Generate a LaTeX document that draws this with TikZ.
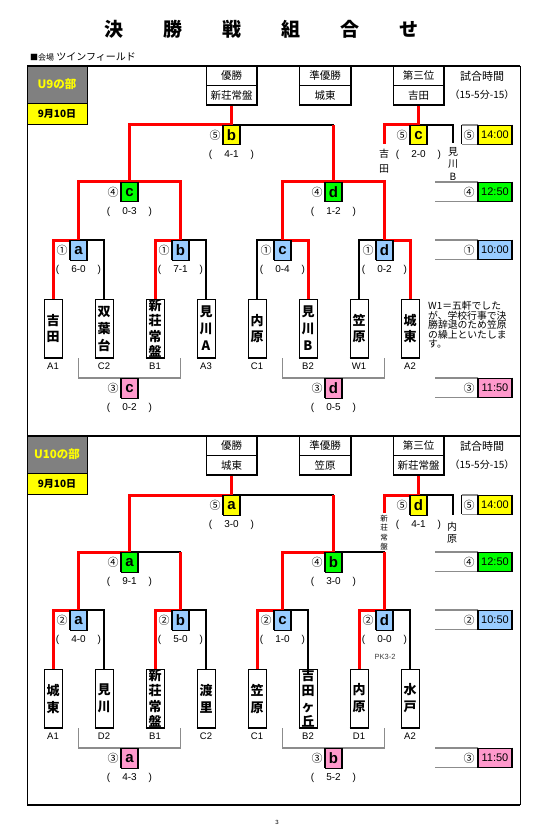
\documentclass[tikz,border=0pt]{standalone}
\usepackage{fontspec}
\setmainfont{Liberation Sans}
\newfontfamily\jp{Noto Sans CJK JP}
\usetikzlibrary{calc}
\definecolor{cblue}{HTML}{99CCFF}
\definecolor{cgreen}{HTML}{00FF00}
\definecolor{cyel}{HTML}{FFFF00}
\definecolor{cpink}{HTML}{FF99CC}
\definecolor{cred}{HTML}{FF0000}
\definecolor{cgray}{HTML}{808080}
\definecolor{lgray}{HTML}{8C8C8C}
\pgfdeclarelayer{bg}
\pgfsetlayers{bg,main}
\tikzset{
 blk/.style={line width=1.6pt,black},
 rd/.style={line width=3pt,cred},
 gr/.style={line width=1.6pt,lgray},
 teambox/.style={draw,line width=0.6pt,minimum width=18pt,minimum height=59pt,inner sep=0pt,align=center},
 lab/.style={font=\fontsize{9.5}{9.5}\selectfont},
 lbox/.style={draw,line width=0.6pt,minimum width=17pt,minimum height=19.5pt,inner sep=0pt,anchor=north,font=\bfseries\fontsize{15}{15}\selectfont},
 circnum/.style={font=\jp\fontsize{11}{11}\selectfont},
 scoretxt/.style={font=\fontsize{10}{10}\selectfont},
 cell/.style={draw,line width=0.6pt,minimum width=51pt,minimum height=19.5pt,inner sep=0pt,font=\jp\fontsize{10.5}{10.5}\selectfont},
 tbox/.style={draw,line width=0.6pt,minimum width=34pt,minimum height=19.5pt,inner sep=0pt,font=\fontsize{11}{11}\selectfont},
 divbox/.style={draw,line width=0.8pt,fill=cgray,minimum width=60pt,minimum height=37pt,inner sep=0pt,text=cyel,font=\jp\bfseries\fontsize{11.5}{11.5}\selectfont},
 datebox/.style={draw,line width=0.8pt,fill=cyel,minimum width=60pt,minimum height=21pt,inner sep=0pt,font=\jp\bfseries\fontsize{10}{10}\selectfont},
 vtext/.style={align=center,inner sep=0pt},
}
\newcommand\mtch[7]{%
 \node[lbox,fill=#6] (#1) at (#2,#3) {#5};
 \draw[line width=1.8pt] (#1.north west)--(#1.south west) (#1.north east)--(#1.south east);
 \node[circnum] (#1c) at (#2-16.5,#3+10) {#4};
 \node[scoretxt] (#1s) at (#2,#3+30) {(\hspace{12pt}#7\hspace{12pt})};}
\newcommand\team[6]{%
 \node[teambox,font=\jp\bfseries\fontsize{#6}{#5}\selectfont] (#1) at (#2,328.5) {#4};
 \draw[line width=1.8pt] (#1.south west)--(#1.south east);
 \node[lab] (#1l) at (#2,366) {#3};}
\newcommand\hdr[5]{%
 \node[cell] (#1a) at (#2,#3+9.75) {#4};
 \node[cell] (#1b) at (#2,#3+29.25) {#5};
 \draw[line width=1.8pt] (#1a.north east)--(#1b.south east)--(#1b.south west);}
\newcommand\trow[6]{%
 \draw[gr] (#6,#2) -- (478,#2) (#6,#2+19.5) -- (478,#2+19.5);
 \node[tbox,fill=#5] (#1) at (495,#2+9.75) {#4};
 \draw[line width=1.8pt] (#1.north west)--(#1.south west) (#1.north east)--(#1.south east);
 \node[circnum] (#1c) at (469,#2+10) {#3};}
\begin{document}
\begin{tikzpicture}[x=1pt,y=-1pt]
\useasboundingbox (0,0) rectangle (559,826);
\begin{pgfonlayer}{bg}
\fill[white] (0,0) rectangle (559,826);
\end{pgfonlayer}
% title
\node[font=\jp\bfseries\fontsize{19}{19}\selectfont] (title) at (261.5,29) {決\hspace{40pt}勝\hspace{40pt}戦\hspace{40pt}組\hspace{40pt}合\hspace{40pt}せ};
\node[anchor=west,inner sep=0pt,font=\jp\fontsize{10}{10}\selectfont] (venue) at (30,57) {{\fontsize{8}{8}\selectfont ■会場} ツインフィールド};
% frame
\draw[line width=0.8pt] (27,66) -- (27,805) (520,66) -- (520,805);
\draw[line width=1.6pt] (27,66) -- (520,66) (27,436) -- (520,436);
\draw[line width=1.2pt] (27,805) -- (520,805);
\node[font=\fontsize{6}{6}\selectfont] (pageno) at (277,822) {3};

% ================= U9 =================
\node[divbox] (p1div) at (57,84.5) {U9の部};
\node[datebox] (p1date) at (57,113.5) {9月10日};
\hdr{p1w}{231.5}{66}{優勝}{新荘常盤}
\hdr{p1r}{325}{66}{準優勝}{城東}
\hdr{p1th}{418.5}{66}{第三位}{吉田}
\node[font=\jp\fontsize{11}{11}\selectfont] (p1tt) at (482,76) {試合時間};
\node[font=\jp\fontsize{10}{10}\selectfont] (p1tf) at (482,95) {（15-5分-15）};

\team{p1t1}{53}{A1}{吉\\田}{16}{13}
\team{p1t2}{104}{C2}{双\\葉\\台}{17}{13}
\team{p1t3}{155}{B1}{新\\荘\\常\\盤}{15.5}{13}
\team{p1t4}{206}{A3}{見\\川\\A}{17}{13}
\team{p1t5}{257}{C1}{内\\原}{16}{13}
\team{p1t6}{308}{B2}{見\\川\\B}{17}{13}
\team{p1t7}{359}{W1}{笠\\原}{16}{13}
\team{p1t8}{410}{A2}{城\\東}{16}{13}

\mtch{p1m1}{78.5}{240}{①}{a}{cblue}{6-0}
\mtch{p1m2}{180.5}{240}{①}{b}{cblue}{7-1}
\mtch{p1m3}{282.5}{240}{①}{c}{cblue}{0-4}
\mtch{p1m4}{384.5}{240}{①}{d}{cblue}{0-2}
\mtch{p1s1}{129.5}{182}{④}{c}{cgreen}{0-3}
\mtch{p1s2}{333.5}{182}{④}{d}{cgreen}{1-2}
\mtch{p1f}{231.5}{125}{⑤}{b}{cyel}{4-1}
\mtch{p1x}{418.5}{125}{⑤}{c}{cyel}{2-0}
\mtch{p1c1}{129.5}{378}{③}{c}{cpink}{0-2}
\mtch{p1c2}{333.5}{378}{③}{d}{cpink}{0-5}

\coordinate (p1xl) at (384,144);
\coordinate (p1xr) at (453,143);
\node[vtext,font=\jp\fontsize{10}{15}\selectfont] (p1xlt) at (384,161) {吉\\田};
\node[vtext,font=\jp\fontsize{10}{12.5}\selectfont] (p1xrt) at (453,163.5) {見\\川\\B};
\coordinate (p1g1) at (78.5,358);
\coordinate (p1g2) at (180.5,358);
\coordinate (p1g3) at (282.5,358);
\coordinate (p1g4) at (384.5,358);

\begin{pgfonlayer}{bg}
\draw[blk] (p1t2.north) |- (p1m1.north);
\draw[blk] (p1t4.north) |- (p1m2.north);
\draw[blk] (p1t5.north) |- (p1m3.north);
\draw[blk] (p1t7.north) |- (p1m4.north);
\draw[blk] (p1f.north) -- (p1f.north -| p1s2.north);
\draw[blk] (p1x.north) -| (p1xr);
\draw[rd] (p1t1.north) |- (p1m1.north) |- (p1s1.north) -| (p1m2.north);
\draw[rd] (p1t3.north) |- (p1m2.north);
\draw[rd] (p1t6.north) |- (p1m3.north) |- (p1s2.north) -| (p1m4.north);
\draw[rd] (p1t8.north) |- (p1m4.north);
\draw[rd] (p1s1.north) |- (p1f.north) -- (p1wb.south);
\draw[rd] (p1s2.north) -- (p1s2.north |- p1f.north);
\draw[rd] (p1thb.south) -- (p1x.north) -| (p1xl);
\draw[gr] (p1g1) |- (p1c1.north) -| (p1g2);
\draw[gr] (p1g3) |- (p1c2.north) -| (p1g4);
\end{pgfonlayer}

\trow{p1tr5}{125}{⑤}{14:00}{cyel}{462}
\draw[line width=0.8pt] (p1tr5.north west) ++(-16,0) -- ++(0,19.5);
\trow{p1tr4}{182}{④}{12:50}{cgreen}{435}
\trow{p1tr1}{240}{①}{10:00}{cblue}{435}
\trow{p1tr3}{378}{③}{11:50}{cpink}{435}

\node[anchor=north west,align=left,inner sep=0pt,font=\jp\fontsize{9.8}{9.6}\selectfont] (p1note) at (428,301) {W1＝五軒でした\\が、学校行事で決\\勝辞退のため笠原\\の繰上といたしま\\す。};

% ================= U10 =================
\begin{scope}[yshift=-370pt]
\node[divbox] (p2div) at (57,84.5) {U10の部};
\node[datebox] (p2date) at (57,113.5) {9月10日};
\hdr{p2w}{231.5}{66}{優勝}{城東}
\hdr{p2r}{325}{66}{準優勝}{笠原}
\hdr{p2th}{418.5}{66}{第三位}{新荘常盤}
\node[font=\jp\fontsize{11}{11}\selectfont] (p2tt) at (482,76) {試合時間};
\node[font=\jp\fontsize{10}{10}\selectfont] (p2tf) at (482,95) {（15-5分-15）};

\team{p2t1}{53}{A1}{城\\東}{17}{13}
\team{p2t2}{104}{D2}{見\\川}{17}{13}
\team{p2t3}{155}{B1}{新\\荘\\常\\盤}{15.5}{13}
\team{p2t4}{206}{C2}{渡\\里}{17}{13}
\team{p2t5}{257}{C1}{笠\\原}{17}{13}
\team{p2t6}{308}{B2}{吉\\田\\ヶ\\丘}{15.5}{13}
\team{p2t7}{359}{D1}{内\\原}{17}{13}
\team{p2t8}{410}{A2}{水\\戸}{17}{13}

\mtch{p2m1}{78.5}{240}{②}{a}{cblue}{4-0}
\mtch{p2m2}{180.5}{240}{②}{b}{cblue}{5-0}
\mtch{p2m3}{282.5}{240}{②}{c}{cblue}{1-0}
\mtch{p2m4}{384.5}{240}{②}{d}{cblue}{0-0}
\node[font=\fontsize{7.5}{7.5}\selectfont,text=black!75] (p2pk) at (385,287) {PK3-2};
\mtch{p2s1}{129.5}{182}{④}{a}{cgreen}{9-1}
\mtch{p2s2}{333.5}{182}{④}{b}{cgreen}{3-0}
\mtch{p2f}{231.5}{125}{⑤}{a}{cyel}{3-0}
\mtch{p2x}{418.5}{125}{⑤}{d}{cyel}{4-1}
\mtch{p2c1}{129.5}{378}{③}{a}{cpink}{4-3}
\mtch{p2c2}{333.5}{378}{③}{b}{cpink}{5-2}

\coordinate (p2xl) at (384,143);
\coordinate (p2xr) at (453,145);
\node[vtext,font=\jp\fontsize{7.5}{9.5}\selectfont] (p2xlt) at (384,162.5) {新\\荘\\常\\盤};
\node[vtext,font=\jp\fontsize{10}{12}\selectfont] (p2xrt) at (452,163) {内\\原};
\coordinate (p2g1) at (78.5,358);
\coordinate (p2g2) at (180.5,358);
\coordinate (p2g3) at (282.5,358);
\coordinate (p2g4) at (384.5,358);

\begin{pgfonlayer}{bg}
\draw[blk] (p2t2.north) |- (p2m1.north);
\draw[blk] (p2t4.north) |- (p2m2.north);
\draw[blk] (p2t6.north) |- (p2m3.north);
\draw[blk] (p2t8.north) |- (p2m4.north);
\draw[blk] (p2s1.north) -- (p2s1.north -| p2m2.north);
\draw[blk] (p2s2.north) -- (p2s2.north -| p2m4.north);
\draw[blk] (p2f.north) -- (p2f.north -| p2s2.north);
\draw[blk] (p2x.north) -| (p2xr);
\draw[rd] (p2t1.north) |- (p2m1.north) |- (p2s1.north) |- (p2f.north) -- (p2wb.south);
\draw[rd] (p2t3.north) |- (p2m2.north) -- (p2m2.north |- p2s1.north);
\draw[rd] (p2t5.north) |- (p2m3.north) |- (p2s2.north) -- (p2s2.north |- p2f.north);
\draw[rd] (p2t7.north) |- (p2m4.north) -- (p2m4.north |- p2s2.north);
\draw[rd] (p2thb.south) -- (p2x.north) -| (p2xl);
\draw[gr] (p2g1) |- (p2c1.north) -| (p2g2);
\draw[gr] (p2g3) |- (p2c2.north) -| (p2g4);
\end{pgfonlayer}

\trow{p2tr5}{125}{⑤}{14:00}{cyel}{462}
\draw[line width=0.8pt] (p2tr5.north west) ++(-16,0) -- ++(0,19.5);
\trow{p2tr4}{182}{④}{12:50}{cgreen}{435}
\trow{p2tr2}{240}{②}{10:50}{cblue}{435}
\trow{p2tr3}{378}{③}{11:50}{cpink}{435}
\end{scope}
\end{tikzpicture}
\end{document}
